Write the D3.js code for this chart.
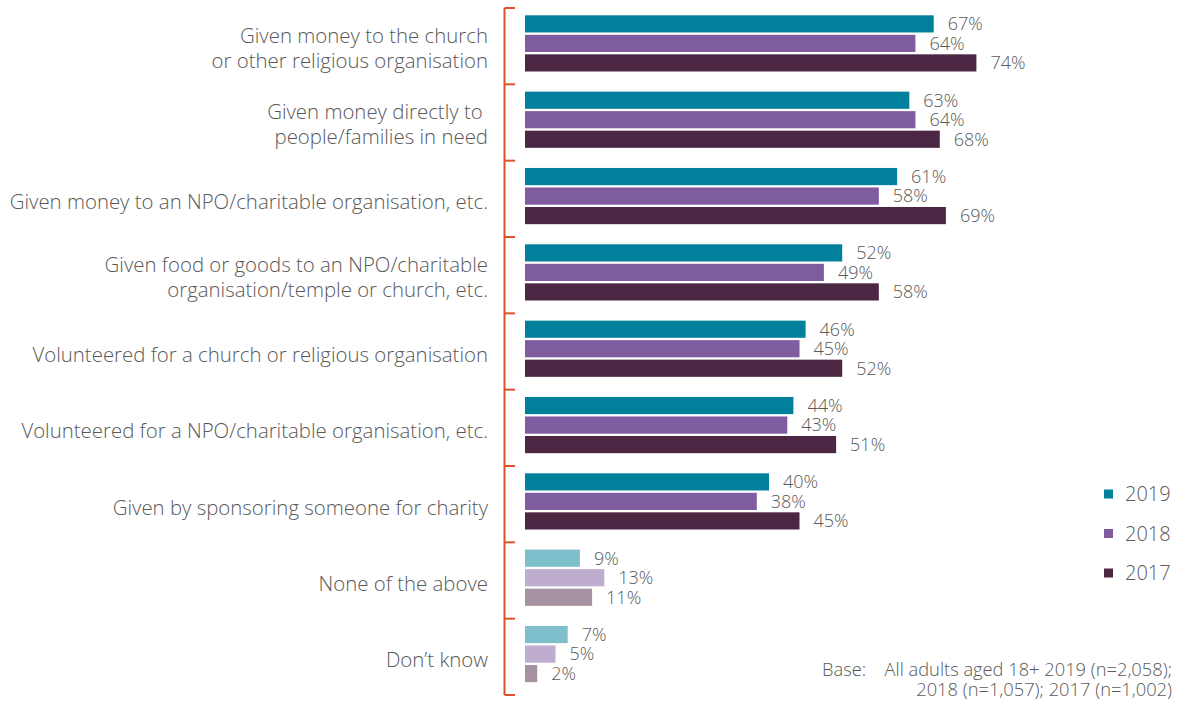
<!DOCTYPE html>
<html>
<head>
<meta charset="utf-8">
<script src="https://cdn.jsdelivr.net/npm/d3@7"></script>
<style>
  html, body { margin: 0; padding: 0; background: #fff; }
  svg { display: block; font-family: "Open Sans", "Noto Sans", sans-serif; font-weight: 300; }
</style>
</head>
<body>
<svg id="chart" width="1179" height="702"></svg>
<script>
// Giving behaviour by year (% of adults)
const categories = [
  "Given money to the church\nor other religious organisation",
  "Given money directly to \npeople/families in need",
  "Given money to an NPO/charitable organisation, etc.",
  "Given food or goods to an NPO/charitable\norganisation/temple or church, etc.",
  "Volunteered for a church or religious organisation",
  "Volunteered for a NPO/charitable organisation, etc.",
  "Given by sponsoring someone for charity",
  "None of the above",
  "Don\u2019t know"
];
const years = ["2019", "2018", "2017"];
const values2019 = [67, 63, 61, 52, 46, 44, 40, 9, 7];
const values2018 = [64, 64, 58, 49, 45, 43, 38, 13, 5];
const values2017 = [74, 68, 69, 58, 52, 51, 45, 11, 2];
const mutedCategories = ["None of the above", "Don\u2019t know"];
const baseNote = ["All adults aged 18+ 2019 (n=2,058);", "2018 (n=1,057); 2017 (n=1,002)"];

const seriesValues = { "2019": values2019, "2018": values2018, "2017": values2017 };
const colors = { "2019": "#00809a", "2018": "#7f5ba0", "2017": "#4b2744" };
const mutedColors = { "2019": "#7fbfcc", "2018": "#bfadd0", "2017": "#a5919f" };

const svg = d3.select("#chart");
const textColor = "#595959";

const y = d3.scaleBand().domain(categories).range([8, 695]).paddingInner(0).paddingOuter(0);
const yInner = d3.scaleBand().domain(years).range([7.3, 63.5]).paddingInner(0.12).paddingOuter(0);
const x = d3.scaleLinear().domain([0, 100]).range([525, 1135]);

// bracket-style axis
const axisG = svg.append("g").attr("stroke", "#e0502a").attr("stroke-width", 2).attr("fill", "none");
axisG.append("line").attr("x1", 504.5).attr("x2", 504.5).attr("y1", y.range()[0]).attr("y2", y.range()[1]);
const tickYs = categories.map(c => y(c)).concat([y.range()[1]]);
axisG.selectAll("line.tick").data(tickYs).join("line")
  .attr("class", "tick")
  .attr("x1", 504.5).attr("x2", 515)
  .attr("y1", d => d).attr("y2", d => d);

// bars
const rows = [];
categories.forEach((c, i) => {
  years.forEach(yr => rows.push({ cat: c, year: yr, value: seriesValues[yr][i] }));
});

const groups = svg.append("g");
groups.selectAll("rect").data(rows).join("rect")
  .attr("x", x(0))
  .attr("y", d => y(d.cat) + yInner(d.year))
  .attr("width", d => x(d.value) - x(0))
  .attr("height", yInner.bandwidth())
  .attr("fill", d => mutedCategories.includes(d.cat) ? mutedColors[d.year] : colors[d.year]);

groups.selectAll("text.val").data(rows).join("text")
  .attr("class", "val")
  .attr("x", d => x(d.value) + 14)
  .attr("y", d => y(d.cat) + yInner(d.year) + yInner.bandwidth() / 2)
  .attr("dy", "0.35em")
  .attr("fill", textColor)
  .attr("font-size", 18)
  .text(d => d.value + "%");

// category labels
const lineH = 25;
const labels = svg.append("g").attr("text-anchor", "end").attr("fill", textColor).attr("font-size", 20.4);
categories.forEach(c => {
  const lines = c.split("\n");
  const cy = y(c) + (lines.length > 1 ? 40 : 41.5);
  const t = labels.append("text").attr("x", 488);
  lines.forEach((ln, j) => {
    t.append("tspan")
      .attr("x", 488)
      .attr("y", cy + (j - (lines.length - 1) / 2) * lineH)
      .attr("dy", "0.35em")
      .text(ln);
  });
});

// legend
const legend = svg.append("g");
const legendY = d3.scalePoint().domain(years).range([494, 573]);
legend.selectAll("rect").data(years).join("rect")
  .attr("x", 1104).attr("y", d => legendY(d) - 4.5)
  .attr("width", 9).attr("height", 9)
  .attr("fill", d => colors[d]);
legend.selectAll("text").data(years).join("text")
  .attr("x", 1125).attr("y", d => legendY(d)).attr("dy", "0.35em")
  .attr("font-size", 20).attr("fill", textColor)
  .text(d => d);

// base note
const note = svg.append("g").attr("fill", textColor).attr("font-size", 18.3);
note.append("text").attr("x", 822).attr("y", 676).text("Base:");
note.selectAll("text.base").data(baseNote).join("text")
  .attr("class", "base")
  .attr("x", 1172).attr("y", (d, i) => 676 + i * 19.5)
  .attr("text-anchor", "end")
  .text(d => d);
</script>
</body>
</html>
